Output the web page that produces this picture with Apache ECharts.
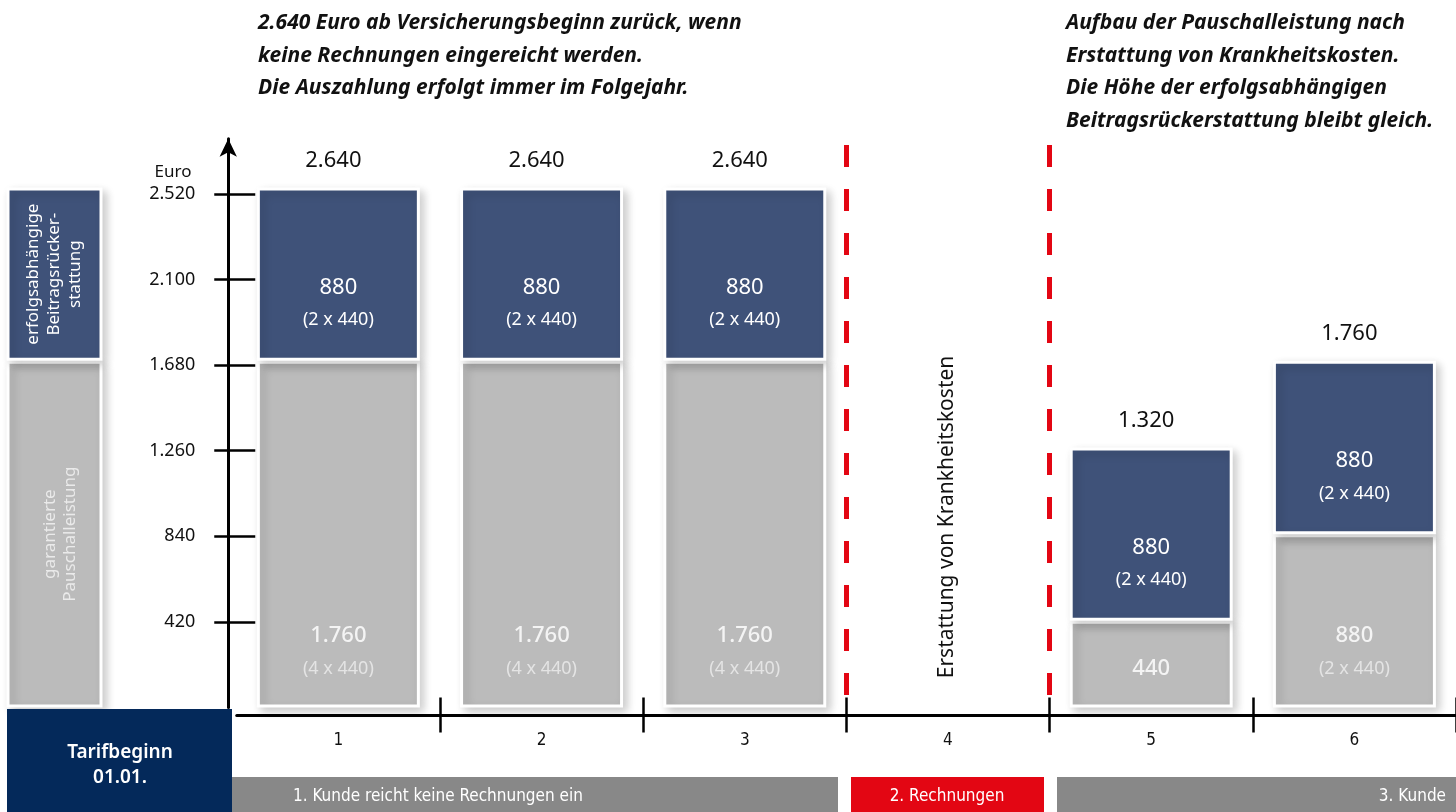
<!DOCTYPE html>
<html>
<head>
<meta charset="utf-8">
<script src="https://cdn.jsdelivr.net/npm/echarts@6/dist/echarts.min.js"></script>
<style>
html,body{margin:0;padding:0;background:#fff;}
#c{width:1456px;height:812px;}
</style>
</head>
<body>
<div id="c"></div>
<script>
// ---------- data ----------
const categories = ['1', '2', '3', '4', '5', '6'];
const grayValues = [1760, 1760, 1760, null, 440, 880];
const blueValues = [880, 880, 880, null, 880, 880];
const grayMain = ['1.760', '1.760', '1.760', '', '440', '880'];
const graySub = ['(4 x 440)', '(4 x 440)', '(4 x 440)', '', '', '(2 x 440)'];
const blueMain = ['880', '880', '880', '', '880', '880'];
const blueSub = ['(2 x 440)', '(2 x 440)', '(2 x 440)', '', '(2 x 440)', '(2 x 440)'];
const totalLabels = ['2.640', '2.640', '2.640', '', '1.320', '1.760'];
const yTickValues = [420, 840, 1260, 1680, 2100, 2520];
const yTickLabels = ['420', '840', '1.260', '1.680', '2.100', '2.520'];
const legendGray = [1760];
const legendBlue = [880];
const legendGrayText = 'garantierte\nPauschalleistung';
const legendBlueText = 'erfolgsabhängige\nBeitragsrücker-\nstattung';
const dividers = [3, 4];
const yAxisName = 'Euro';
const middleNote = 'Erstattung von Krankheitskosten';
const startBox = 'Tarifbeginn\n01.01.';
const phaseTexts = ['1. Kunde reicht keine Rechnungen ein', '2. Rechnungen', '3. Kunde'];
const titleLeft = '2.640 Euro ab Versicherungsbeginn zurück, wenn\nkeine Rechnungen eingereicht werden.\nDie Auszahlung erfolgt immer im Folgejahr.';
const titleRight = 'Aufbau der Pauschalleistung nach\nErstattung von Krankheitskosten.\nDie Höhe der erfolgsabhängigen\nBeitragsrückerstattung bleibt gleich.';

// ---------- styles ----------
const BLUE = '#3F5279';
const GRAY = '#BBBBBB';
const RED = '#E30613';
const NAVY = '#04295A';
const BAND = '#888888';
const FONT = "'Noto Sans', 'Open Sans', sans-serif";
const NARROW = "'Liberation Sans Narrow', 'DejaVu Sans Condensed', 'Noto Sans', sans-serif";

const VIS_MAX = 2790;   // visible euro axis extent
const BAR_MAX = 2887;   // bar drawing scale
const GRID_TOP = 138.8;
const GRID_BOTTOM = 104.5;

const shadow = {
  shadowBlur: 9, shadowOffsetX: 4, shadowOffsetY: 4, shadowColor: 'rgba(0,0,0,0.2)'
};

const chart = echarts.init(document.getElementById('c'), null, {renderer: 'canvas'});

const option = {
  backgroundColor: '#ffffff',
  animation: false,
  title: [
    {
      text: titleLeft, left: 258, top: 7, padding: 0,
      textStyle: {fontFamily: FONT, fontStyle: 'italic', fontWeight: 'bold', fontSize: 21, lineHeight: 32.5, color: '#111'}
    },
    {
      text: titleRight, left: 1066, top: 7, padding: 0,
      textStyle: {fontFamily: FONT, fontStyle: 'italic', fontWeight: 'bold', fontSize: 21, lineHeight: 32.5, color: '#111'}
    }
  ],
  grid: [
    {left: 236.75, right: 0, top: GRID_TOP, bottom: GRID_BOTTOM},
    {left: 8, width: 93, top: GRID_TOP, bottom: GRID_BOTTOM}
  ],
  xAxis: [
    { // visible category axis, ticks pointing down
      type: 'category', data: categories, gridIndex: 0, position: 'bottom', offset: 8,
      boundaryGap: true,
      axisLine: {onZero: false, lineStyle: {color: '#000', width: 3}},
      axisTick: {show: true, length: 17, lineStyle: {color: '#000', width: 2.5},
                 interval: function (i) { return i !== 0; }},
      axisLabel: {fontFamily: NARROW, fontSize: 17, color: '#111', margin: 17},
      splitLine: {show: false}
    },
    { // same axis, ticks pointing up
      type: 'category', data: categories, gridIndex: 0, position: 'bottom', offset: 8,
      boundaryGap: true,
      axisLine: {show: false, onZero: false},
      axisTick: {show: true, inside: true, length: 18, lineStyle: {color: '#000', width: 2.5},
                 interval: function (i) { return i !== 0; }},
      axisLabel: {show: false},
      splitLine: {show: false}
    },
    { // hidden value axis for dividers
      type: 'value', gridIndex: 0, min: 0, max: categories.length, position: 'top', show: false
    },
    { // legend column
      type: 'category', data: ['L'], gridIndex: 1, show: false
    }
  ],
  yAxis: [
    { // visible Euro axis
      type: 'value', gridIndex: 0, min: 0, max: VIS_MAX, position: 'left', offset: 8.5,
      axisLine: {show: true, onZero: false, symbol: ['none', 'arrow'], symbolSize: [13, 18],
                 lineStyle: {color: '#000', width: 3}},
      axisTick: {show: true, length: 14, customValues: yTickValues, lineStyle: {color: '#000', width: 2.5}},
      axisLabel: {show: true, customValues: yTickValues, margin: 33, fontFamily: FONT, fontSize: 18, color: '#111',
                  formatter: function (v) { const i = yTickValues.indexOf(v); return i >= 0 ? yTickLabels[i] : ''; }},
      splitLine: {show: false}
    },
    { // tick extension to the right
      type: 'value', gridIndex: 0, min: 0, max: VIS_MAX, position: 'left', offset: 8.5,
      axisLine: {show: false, onZero: false},
      axisTick: {show: true, inside: true, length: 27, customValues: yTickValues, lineStyle: {color: '#000', width: 2.5}},
      axisLabel: {show: false},
      splitLine: {show: false}
    },
    { // bar scale
      type: 'value', gridIndex: 0, min: 0, max: BAR_MAX, position: 'right', show: false
    },
    { // legend bar scale
      type: 'value', gridIndex: 1, min: 0, max: BAR_MAX, show: false
    }
  ],
  series: [
    {
      name: 'garantierte Pauschalleistung', type: 'bar', xAxisIndex: 0, yAxisIndex: 2, stack: 'a',
      barWidth: 163, data: grayValues,
      itemStyle: Object.assign({color: GRAY, borderColor: '#fff', borderWidth: 3}, shadow),
      label: {
        show: true, position: 'insideBottom', distance: 22,
        formatter: function (p) {
          const i = p.dataIndex;
          return graySub[i] ? '{a|' + grayMain[i] + '}\n{b|' + graySub[i] + '}' : '{a|' + grayMain[i] + '}';
        },
        rich: {
          a: {fontFamily: FONT, fontSize: 22, color: '#F4F4F4', lineHeight: 33, fontWeight: 500},
          b: {fontFamily: FONT, fontSize: 18, color: '#E4E4E4', lineHeight: 33}
        }
      },
      z: 3
    },
    {
      name: 'erfolgsabhängige Beitragsrückerstattung', type: 'bar', xAxisIndex: 0, yAxisIndex: 2, stack: 'a',
      barWidth: 163, data: blueValues,
      itemStyle: Object.assign({color: BLUE, borderColor: '#fff', borderWidth: 3}, shadow),
      label: {
        show: true, position: 'insideBottom', distance: 24,
        formatter: function (p) {
          const i = p.dataIndex;
          return '{a|' + blueMain[i] + '}\n{b|' + blueSub[i] + '}';
        },
        rich: {
          a: {fontFamily: FONT, fontSize: 22, color: '#FFFFFF', lineHeight: 33},
          b: {fontFamily: FONT, fontSize: 18, color: '#FFFFFF', lineHeight: 33}
        }
      },
      z: 3
    },
    {
      name: 'Summe', type: 'bar', xAxisIndex: 0, yAxisIndex: 2, stack: 'a',
      barWidth: 163, data: totalLabels.map(function (t) { return t ? 0 : null; }),
      itemStyle: {color: 'rgba(0,0,0,0)', borderWidth: 0},
      label: {
        show: true, position: 'top', distance: 14, offset: [-5, 0],
        fontFamily: FONT, fontSize: 22, color: '#111', lineHeight: 26,
        formatter: function (p) { return totalLabels[p.dataIndex]; }
      },
      z: 4
    },
    {
      name: 'Trennlinien', type: 'line', xAxisIndex: 2, yAxisIndex: 2, data: [],
      markLine: {
        silent: true, symbol: ['none', 'none'], label: {show: false},
        lineStyle: {color: RED, width: 5, type: [22, 22]},
        data: dividers.map(function (d) { return [{coord: [d, 2855]}, {coord: [d, 38]}]; })
      },
      z: 5
    },
    {
      name: 'Legende grau', type: 'bar', xAxisIndex: 3, yAxisIndex: 3, stack: 'l',
      barWidth: 96, data: legendGray,
      itemStyle: Object.assign({color: GRAY, borderColor: '#fff', borderWidth: 3}, shadow),
      label: {
        show: true, position: 'inside', rotate: 90, formatter: legendGrayText, offset: [0, 6],
        fontFamily: FONT, fontSize: 17, lineHeight: 20, color: '#EAEAEA', align: 'center', verticalAlign: 'middle'
      }
    },
    {
      name: 'Legende blau', type: 'bar', xAxisIndex: 3, yAxisIndex: 3, stack: 'l',
      barWidth: 96, data: legendBlue,
      itemStyle: Object.assign({color: BLUE, borderColor: '#fff', borderWidth: 3}, shadow),
      label: {
        show: true, position: 'inside', rotate: 90, formatter: legendBlueText,
        fontFamily: FONT, fontSize: 17, lineHeight: 21, color: '#FFFFFF', align: 'center', verticalAlign: 'middle'
      }
    }
  ],
  graphic: [
    {type: 'text', x: 173, y: 172, z: 20,
     style: {text: yAxisName, fontFamily: FONT, fontSize: 17, fill: '#111', align: 'center', verticalAlign: 'middle'}},
    {type: 'text', x: 947, y: 517, rotation: Math.PI / 2, z: 20,
     style: {text: middleNote, fontFamily: FONT, fontSize: 21, fill: '#111', align: 'center', verticalAlign: 'middle'}},
    {type: 'rect', shape: {x: 7, y: 709, width: 225, height: 103}, style: {fill: NAVY}, z: 20},
    {type: 'text', x: 120, y: 765, z: 21,
     style: {text: startBox, fontFamily: FONT, fontSize: 19, fontWeight: 600, lineHeight: 25, fill: '#fff', align: 'center', verticalAlign: 'middle'}},
    {type: 'rect', shape: {x: 232, y: 777, width: 606, height: 35}, style: {fill: BAND}, z: 20},
    {type: 'rect', shape: {x: 851, y: 777, width: 193, height: 35}, style: {fill: RED}, z: 20},
    {type: 'rect', shape: {x: 1057, y: 777, width: 399, height: 35}, style: {fill: BAND}, z: 20},
    {type: 'text', x: 293, y: 797, z: 21,
     style: {text: phaseTexts[0], fontFamily: NARROW, fontSize: 17, fill: '#fff', align: 'left', verticalAlign: 'middle'}},
    {type: 'text', x: 947, y: 797, z: 21,
     style: {text: phaseTexts[1], fontFamily: NARROW, fontSize: 17, fill: '#fff', align: 'center', verticalAlign: 'middle'}},
    {type: 'text', x: 1446, y: 797, z: 21,
     style: {text: phaseTexts[2], fontFamily: NARROW, fontSize: 17, fill: '#fff', align: 'right', verticalAlign: 'middle'}}
  ]
};

chart.setOption(option);
</script>
</body>
</html>
